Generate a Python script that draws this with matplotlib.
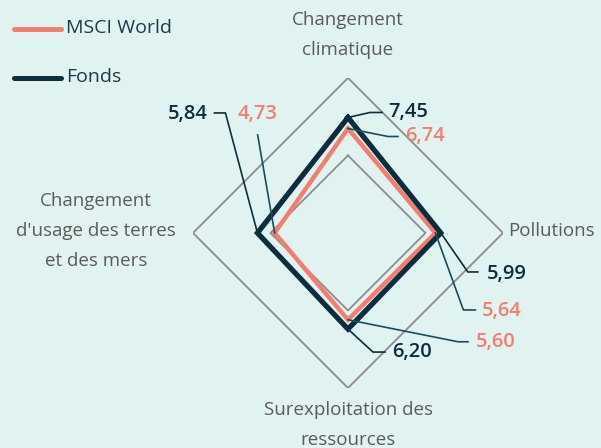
import numpy as np
import matplotlib.pyplot as plt

# données
axes_labels = ["Changement\nclimatique", "Pollutions",
               "Surexploitation des\nressources",
               "Changement\nd'usage des terres\net des mers"]
msci = [6.74, 5.64, 5.60, 4.73]
fonds = [7.45, 5.99, 6.20, 5.84]
grid_levels = [5, 10]

BG = "#e0f3f1"
SALMON = "#f57d6f"
NAVY = "#0c2e3c"
TEAL = "#174d5e"
GREY = "#8c8c8c"
TXT = "#5b5b5b"

plt.rcParams['font.family'] = ['Open Sans', 'DejaVu Sans']

fig = plt.figure(figsize=(6.01, 4.48), dpi=100, facecolor=BG)
ax = fig.add_axes([0.321, 0.134, 0.516, 0.692], projection="polar")
ax.set_facecolor("none")
ax.set_theta_zero_location("N")
ax.set_theta_direction(-1)
ax.set_ylim(0, 10)
ax.grid(False)
ax.set_xticks([])
ax.set_yticks([])
ax.spines["polar"].set_visible(False)

theta = np.arange(len(axes_labels)) * np.pi / 2
th_closed = np.append(theta, theta[0])

for lev in grid_levels:
    ax.plot(th_closed, [lev] * 5, color=GREY, lw=1.3, zorder=1)

ax.plot(th_closed, msci + msci[:1], color=SALMON, lw=3.2,
        solid_joinstyle="miter", zorder=3)
ax.plot(th_closed, fonds + fonds[:1], color=NAVY, lw=3.8,
        solid_joinstyle="miter", zorder=4)

# étiquettes de valeur avec lignes de rappel (décalages en pixels)
fig.canvas.draw()
tr = ax.transData
# (serie, index, couleur ligne, [points de la ligne], position texte, ha)
leaders = [
    (fonds, 0, NAVY, [(22, 5), (34, 5)], (40, 5), "left"),
    (msci, 0, TEAL, [(40, -8), (50, -8)], (57, -8), "left"),
    (fonds, 1, NAVY, [(27, -39), (37, -39)], (46, -41), "left"),
    (msci, 1, TEAL, [(28, -77), (40, -77)], (46, -78), "left"),
    (msci, 2, TEAL, [(110, -22), (120, -22)], (128, -22), "left"),
    (fonds, 2, NAVY, [(25, -23), (37, -23)], (44, -23), "left"),
    (fonds, 3, NAVY, [(-32, 120), (-43, 120)], (-50, 119), "right"),
    (msci, 3, TEAL, [(-17, 98)], (-17, 119), "center"),
]
for serie, i, lc, pts, tpos, ha in leaders:
    x0, y0 = tr.transform((theta[i], serie[i]))
    xs = [x0] + [x0 + p[0] for p in pts]
    ys = [y0] + [y0 + p[1] for p in pts]
    fig.add_artist(plt.Line2D(xs, ys, transform=None, color=lc, lw=1.2))
    col = NAVY if serie is fonds else SALMON
    fig.text(x0 + tpos[0], y0 + tpos[1], f"{serie[i]:.2f}".replace(".", ","),
             transform=None, ha=ha, va="center", fontsize=14.5,
             fontweight="semibold", color=col)

# libellés des axes
fig.text(348, 448 - 35, axes_labels[0], transform=None, ha="center",
         va="center", fontsize=13.5, color=TXT, linespacing=1.85)
fig.text(508, 448 - 231, axes_labels[1], transform=None, ha="left",
         va="center", fontsize=13.5, color=TXT)
fig.text(96, 448 - 231, axes_labels[3], transform=None, ha="center",
         va="center", fontsize=13.5, color=TXT, linespacing=1.85)
fig.text(348, 448 - 425, axes_labels[2], transform=None, ha="center",
         va="center", fontsize=13.5, color=TXT, linespacing=1.85)

# légende
for k, (name, col) in enumerate([("MSCI World", SALMON), ("Fonds", NAVY)]):
    y = 448 - 29 - 49 * k
    fig.add_artist(plt.Line2D([14, 61], [y, y], transform=None, color=col,
                              lw=3.6, solid_capstyle="round"))
    fig.text(66, y + 1, name, transform=None, ha="left", va="center",
             fontsize=14, color="#1b3a4a")

fig.savefig("out.png", dpi=100, facecolor=BG)
